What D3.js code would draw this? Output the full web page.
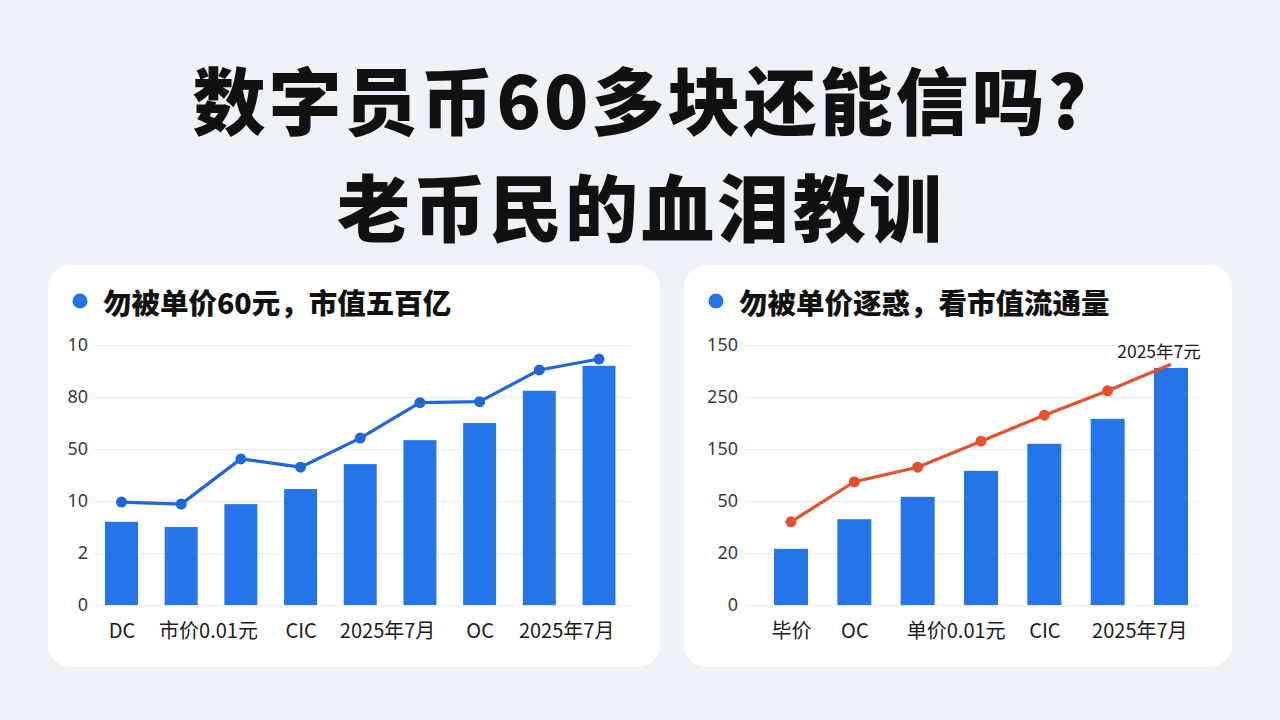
<!DOCTYPE html>
<html>
<head>
<meta charset="utf-8">
<script src="https://cdn.jsdelivr.net/npm/d3@7"></script>
<style>
  html, body { margin: 0; padding: 0; background: #eef1f5; }
  svg { display: block; font-family: "Noto Sans CJK SC", "Noto Sans", sans-serif; }
</style>
</head>
<body>
<div id="root"></div>
<script>
// title lines
const titleLines = ['数字员币60多块还能信吗?', '老币民的血泪教训'];

// left panel
const leftTitle = '勿被单价60元，市值五百亿';
const leftBars = [1.6, 1.5, 1.94, 2.23, 2.71, 3.17, 3.5, 4.12, 4.6];
const leftLine = [1.98, 1.94, 2.81, 2.65, 3.21, 3.89, 3.91, 4.52, 4.73];
const leftTicks = ['0', '2', '10', '50', '80', '10'];
const leftLabels = ['DC', '市价0.01元', 'CIC', '2025年7月', 'OC', '2025年7月'];
const leftLabelSlots = [0, 1.45, 3, 4.45, 6, 7.45];

// right panel
const rightTitle = '勿被单价逐惑，看市值流通量';
const rightBars = [1.08, 1.65, 2.08, 2.58, 3.1, 3.58, 4.56];
const rightLine = [1.6, 2.37, 2.65, 3.15, 3.65, 4.12, 4.63];
const rightTicks = ['0', '20', '50', '150', '250', '150'];
const rightLabels = ['毕价', 'OC', '单价0.01元', 'CIC', '2025年7月'];
const rightLabelSlots = [0, 1, 2.6, 4, 5.5];
const rightNote = '2025年7元';

var config = {
  width: 1280,
  height: 720,
  barColor: '#2675e8'
};

const chart = d3.select('#root')
  .append('svg:svg')
  .attr('width', config.width)
  .attr('height', config.height);

chart.append('rect')
  .attr('width', config.width)
  .attr('height', config.height)
  .attr('fill', '#eef1f5');

// Big title
chart.selectAll('.title')
  .data(titleLines)
  .enter()
    .append('text')
    .attr('x', 641)
    .attr('y', (d, i) => 97 + i * 107)
    .attr('text-anchor', 'middle')
    .attr('dominant-baseline', 'central')
    .attr('font-size', 73)
    .attr('font-weight', 900)
    .attr('letter-spacing', 3)
    .attr('fill', '#111')
    .text(d => d);

function drawPanel(p) {
  const g = chart.append('g');

  g.append('rect')
    .attr('x', p.card[0]).attr('y', p.card[1])
    .attr('width', p.card[2]).attr('height', p.card[3])
    .attr('rx', 22)
    .attr('fill', '#fff');

  g.append('circle')
    .attr('cx', p.card[0] + 32).attr('cy', 301).attr('r', 7.5)
    .attr('fill', '#2675e8');
  g.append('text')
    .attr('x', p.card[0] + 55).attr('y', 301)
    .attr('dominant-baseline', 'central')
    .attr('font-size', 28.5)
    .attr('font-weight', 900)
    .attr('fill', '#111')
    .text(p.title);

  const y = d3.scaleLinear().domain([0, 5]).range([605, 345]);
  const x = d3.scaleLinear().domain([0, p.bars.length - 1]).range(p.xRange);

  // y axis with gridlines
  const yAxis = g.append('g')
    .attr('transform', `translate(${p.grid[0]},0)`)
    .call(d3.axisLeft(y)
      .tickValues(d3.range(6))
      .tickFormat(i => p.ticks[i])
      .tickSize(-(p.grid[1] - p.grid[0]))
      .tickPadding(p.tickPad));
  yAxis.select('.domain').remove();
  yAxis.selectAll('line').attr('stroke', '#e9ecf0').attr('stroke-width', 1.2);
  yAxis.selectAll('text')
    .attr('font-size', 18)
    .attr('fill', '#3a3a3a')
    .attr('font-family', '"Noto Sans", sans-serif');

  // bars
  g.selectAll('.bar')
    .data(p.bars)
    .enter()
      .append('rect')
      .attr('x', (d, i) => x(i) - p.barWidth / 2)
      .attr('y', d => y(d))
      .attr('width', p.barWidth)
      .attr('height', d => y(0) - y(d))
      .attr('fill', config.barColor);

  // line
  const line = d3.line()
    .x((d, i) => x(i))
    .y(d => y(d));
  g.append('path')
    .datum(p.line)
    .attr('d', line)
    .attr('fill', 'none')
    .attr('stroke', p.lineColor)
    .attr('stroke-width', 3.2)
    .attr('stroke-linejoin', 'round');
  g.selectAll('.dot')
    .data(p.line.slice(0, p.dots))
    .enter()
      .append('circle')
      .attr('cx', (d, i) => x(i))
      .attr('cy', d => y(d))
      .attr('r', 5.5)
      .attr('fill', p.lineColor);

  // x labels
  const xAxis = g.append('g')
    .attr('transform', 'translate(0,605)')
    .call(d3.axisBottom(x)
      .tickValues(p.slots)
      .tickFormat((d, i) => p.labels[i])
      .tickSize(0)
      .tickPadding(19));
  xAxis.select('.domain').remove();
  xAxis.selectAll('text')
    .attr('font-size', 20)
    .attr('fill', '#1a1a1a')
    .attr('font-family', '"Noto Sans CJK SC", sans-serif');

  return { g, x, y };
}

drawPanel({
  card: [48, 265, 612, 402],
  title: leftTitle,
  bars: leftBars,
  line: leftLine,
  dots: leftLine.length,
  ticks: leftTicks,
  labels: leftLabels,
  slots: leftLabelSlots,
  xRange: [121.5, 599],
  grid: [94, 630],
  tickPad: 6,
  barWidth: 33,
  lineColor: '#1f67d6'
});

const right = drawPanel({
  card: [684, 265, 548, 402],
  title: rightTitle,
  bars: rightBars,
  line: rightLine,
  dots: rightLine.length - 1,
  ticks: rightTicks,
  labels: rightLabels,
  slots: rightLabelSlots,
  xRange: [791, 1171],
  grid: [746, 1198],
  tickPad: 8,
  barWidth: 34,
  lineColor: '#e4522c'
});

right.g.append('text')
  .attr('x', right.x(rightLine.length - 1) - 12)
  .attr('y', 350)
  .attr('text-anchor', 'middle')
  .attr('dominant-baseline', 'central')
  .attr('font-size', 17.5)
  .attr('fill', '#1a1a1a')
  .text(rightNote);
</script>
</body>
</html>
